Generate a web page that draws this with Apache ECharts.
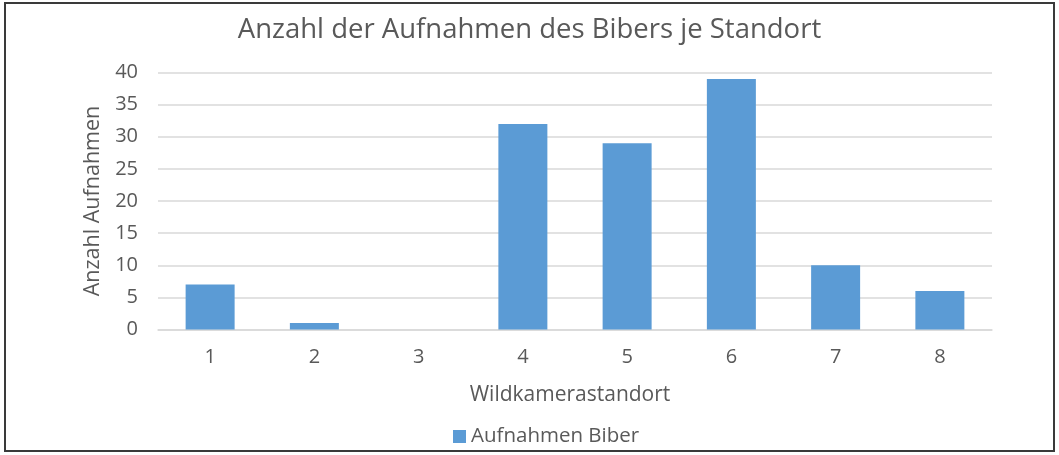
<!DOCTYPE html>
<html>
<head>
<meta charset="utf-8">
<script src="https://cdn.jsdelivr.net/npm/echarts@6/dist/echarts.min.js"></script>
<style>
  html, body { margin: 0; padding: 0; background: #fff; }
  #chart { width: 1059px; height: 455px; }
</style>
</head>
<body>
<div id="chart"></div>
<script>
// Standorte der Wildkameras und Anzahl Aufnahmen
const standorte = ['1', '2', '3', '4', '5', '6', '7', '8'];
const aufnahmen = [7, 1, 0, 32, 29, 39, 10, 6];
const yTicks = [0, 5, 10, 15, 20, 25, 30, 35, 40];

const textColor = '#595959';
const fontName = 'Open Sans';

const chart = echarts.init(document.getElementById('chart'));
const option = {
  backgroundColor: '#fff',
  animation: false,
  title: {
    text: 'Anzahl der Aufnahmen des Bibers je Standort',
    left: 'center',
    top: 11,
    textStyle: { color: textColor, fontSize: 27.5, fontWeight: 'normal', fontFamily: fontName }
  },
  graphic: [{
    type: 'rect',
    shape: { x: 5, y: 3, width: 1049, height: 448 },
    style: { fill: 'none', stroke: '#3a3a3a', lineWidth: 2 },
    silent: true
  }],
  legend: {
    data: ['Aufnahmen Biber'],
    left: 448,
    top: 421,
    itemWidth: 13,
    itemHeight: 13,
    itemGap: 6,
    icon: 'rect',
    textStyle: { color: textColor, fontSize: 20.5, fontFamily: fontName }
  },
  grid: { left: 158, right: 67, top: 72.5, bottom: 125.5 },
  xAxis: {
    type: 'category',
    data: standorte,
    name: 'Wildkamerastandort',
    nameLocation: 'middle',
    nameGap: 55,
    nameTextStyle: { color: textColor, fontSize: 21, fontFamily: fontName, padding: [0, 10, 0, 0] },
    axisLine: { lineStyle: { color: '#d9d9d9', width: 1.5 } },
    axisTick: { show: false },
    axisLabel: { color: textColor, fontSize: 20, fontFamily: fontName, margin: 18 }
  },
  yAxis: {
    type: 'value',
    min: yTicks[0],
    max: yTicks[yTicks.length - 1],
    interval: 5,
    name: 'Anzahl Aufnahmen',
    nameLocation: 'middle',
    nameGap: 54,
    nameTextStyle: { color: textColor, fontSize: 21.5, fontFamily: fontName },
    axisLine: { show: false },
    axisTick: { show: false },
    axisLabel: { color: textColor, fontSize: 20, fontFamily: fontName, margin: 20 },
    splitLine: { lineStyle: { color: '#d9d9d9', width: 1.5 } }
  },
  series: [{
    name: 'Aufnahmen Biber',
    type: 'bar',
    data: aufnahmen,
    barWidth: '47%',
    itemStyle: { color: '#5b9bd5' }
  }]
};
chart.setOption(option);
</script>
</body>
</html>
